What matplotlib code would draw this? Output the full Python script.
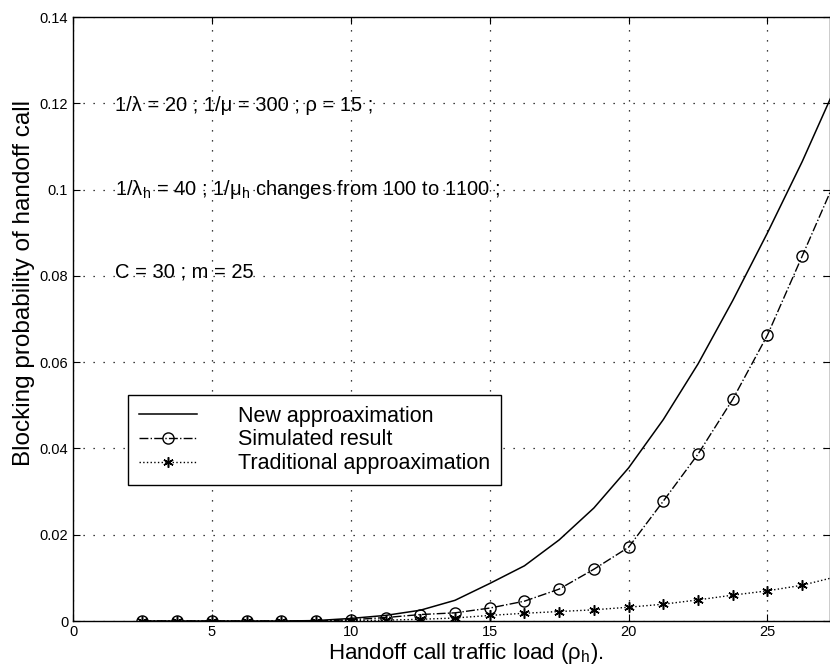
import matplotlib
matplotlib.use('Agg')
from matplotlib import pyplot as plt

plt.rcParams['font.family'] = ['Liberation Sans', 'DejaVu Sans']
plt.rcParams['mathtext.fontset'] = 'custom'
plt.rcParams['mathtext.rm'] = 'Liberation Sans'
plt.rcParams['mathtext.it'] = 'Liberation Sans:italic'

# handoff traffic load and blocking probabilities
load = [2.5, 3.75, 5, 6.25, 7.5, 8.75, 10, 11.25, 12.5, 13.75, 15,
        16.25, 17.5, 18.75, 20, 21.25, 22.5, 23.75, 25, 26.25, 27.5]
newApprox = [0, 0, 0, 0, 0, 0.0001, 0.0006, 0.0013, 0.0025, 0.0048, 0.0087,
             0.0128, 0.0188, 0.0262, 0.0355, 0.0467, 0.0596, 0.0743, 0.0900, 0.1065, 0.1245]
simulated = [0, 0, 0, 0, 0, 0, 0.0003, 0.0008, 0.0015, 0.0019, 0.0030,
             0.0046, 0.0074, 0.0120, 0.0171, 0.0278, 0.0387, 0.0514, 0.0663, 0.0846, 0.1030]
tradApprox = [0, 0, 0, 0, 0, 0, 0.0001, 0.0002, 0.0004, 0.0007, 0.0013,
              0.0018, 0.0022, 0.0026, 0.0032, 0.0039, 0.0049, 0.0060, 0.0070, 0.0083, 0.0103]

xTicks = [0, 5, 10, 15, 20, 25]
yTicks = [0, 0.02, 0.04, 0.06, 0.08, 0.1, 0.12, 0.14]
yTickLabels = ['0', '0.02', '0.04', '0.06', '0.08', '0.1', '0.12', '0.14']

fig = plt.figure(figsize=(8.3, 6.7), dpi=100)
ax = fig.add_axes([0.088, 0.0731, 0.912, 0.9015])

ax.plot(load, newApprox, '-', color='black', lw=1.1, label='New approaximation')
ax.plot(load, simulated, '-.', color='black', lw=1.0, marker='o', markersize=8,
        markerfacecolor='none', markeredgecolor='black', markeredgewidth=1.0,
        label='Simulated result')
ax.plot(load, tradApprox, ':', color='black', lw=1.0, marker=(6, 2, 0), markersize=7.5,
        markeredgewidth=1.1, label='Traditional approaximation')

ax.set_xlim(0, 27.25)
ax.set_ylim(0, 0.14)
ax.set_xticks(xTicks)
ax.set_yticks(yTicks)
ax.set_yticklabels(yTickLabels)
ax.tick_params(direction='in', top=True, right=True, labelsize=10.5, length=5)
ax.tick_params(axis='x', pad=3)
ax.grid(True, linestyle=(0, (1, 7)), color='black', lw=0.9)
for side in ax.spines.values():
    side.set_linewidth(1.0)

ax.set_xlabel(r'Handoff call traffic load (ρ$_{\rm h}$).', fontsize=16)
ax.xaxis.set_label_coords(0.519, -0.033)
ax.set_ylabel('Blocking probability of handoff call', fontsize=17.5)
ax.yaxis.set_label_coords(-0.05, 0.56)

ax.text(1.5, 0.1195, '1/λ = 20 ; 1/μ = 300 ; ρ = 15 ;', fontsize=14.5, va='center')
ax.text(1.5, 0.1, r'1/λ$_{\rm h}$ = 40 ; 1/μ$_{\rm h}$ changes from 100 to 1100 ;',
        fontsize=14.5, va='center')
ax.text(1.5, 0.081, 'C = 30 ; m = 25', fontsize=14.5, va='center')

leg = ax.legend(loc='upper left', bbox_to_anchor=(0.0727, 0.374), borderaxespad=0,
                fontsize=15.5, handlelength=2.7, handletextpad=1.9, labelspacing=0.12,
                fancybox=False, edgecolor='black', framealpha=1, borderpad=0.5)
leg.get_frame().set_linewidth(1.0)

plt.savefig('out.png', dpi=100)
